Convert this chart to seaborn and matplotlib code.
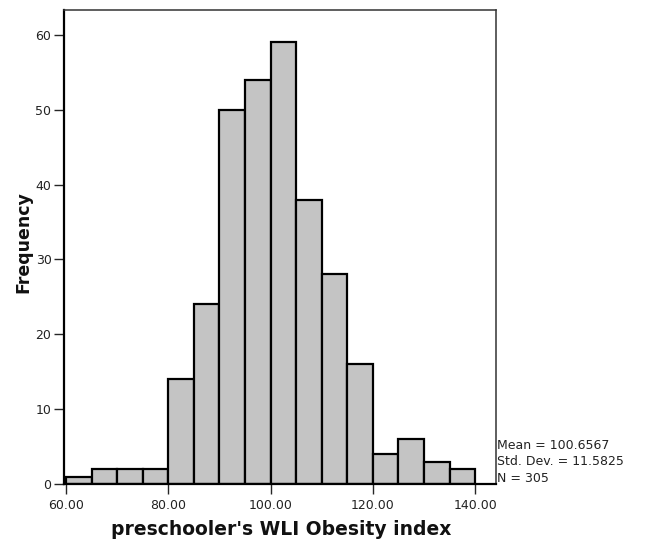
import numpy as np
import pandas as pd
import matplotlib
matplotlib.use("Agg")
import matplotlib.pyplot as plt
import seaborn as sns

# histogram counts (bin width 5, 60 -> 140)
bin_edges = [60, 65, 70, 75, 80, 85, 90, 95, 100, 105, 110, 115, 120, 125, 130, 135, 140]
counts = [1, 2, 2, 2, 14, 24, 50, 54, 59, 38, 28, 16, 4, 6, 3, 2]
x_ticks = [60, 80, 100, 120, 140]
y_ticks = [0, 10, 20, 30, 40, 50, 60]
stats_lines = ["Mean = 100.6567", "Std. Dev. = 11.5825", "N = 305"]

sns.set_style("white")
plt.rcParams['font.family'] = ['DejaVu Sans']

df = pd.DataFrame({
    "wli": [(a + b) / 2 for a, b in zip(bin_edges[:-1], bin_edges[1:])],
    "n": counts,
})

fig = plt.figure(figsize=(6.51, 5.39), dpi=100)
ax = fig.add_axes([0.0983, 0.102, 0.6637, 0.879])

sns.histplot(data=df, x="wli", weights="n", bins=bin_edges, ax=ax,
             color="#c4c4c4", edgecolor="black", linewidth=1.6, alpha=1)

ax.set_xlim(59.6, 144.1)
ax.set_ylim(0, 63.3)
ax.set_xticks(x_ticks)
ax.set_xticklabels([f"{t:.2f}" for t in x_ticks])
ax.set_yticks(y_ticks)
ax.tick_params(axis="both", direction="out", length=7, width=1, labelsize=9,
               labelcolor="#222222", bottom=True, left=True)
ax.tick_params(axis="x", pad=4)
ax.tick_params(axis="y", pad=2)
for side in ["left", "bottom"]:
    ax.spines[side].set_linewidth(1.6)
    ax.spines[side].set_color("black")
for side in ["top", "right"]:
    ax.spines[side].set_linewidth(1.1)
    ax.spines[side].set_color("#333333")

ax.set_xlabel("preschooler's WLI Obesity index", fontsize=13.5, fontweight="bold",
              va="center", color="#111111")
ax.set_ylabel("Frequency", fontsize=12.5, fontweight="bold", va="center", color="#111111")
ax.xaxis.set_label_coords(0.502, -0.097)
ax.yaxis.set_label_coords(-0.095, 0.51)

for i, line in enumerate(stats_lines):
    ax.text(1.003, 0.082 - i * 0.035, line, transform=ax.transAxes,
            fontsize=9, color="#222222", va="center", ha="left")

fig.savefig("out.png", dpi=100)
